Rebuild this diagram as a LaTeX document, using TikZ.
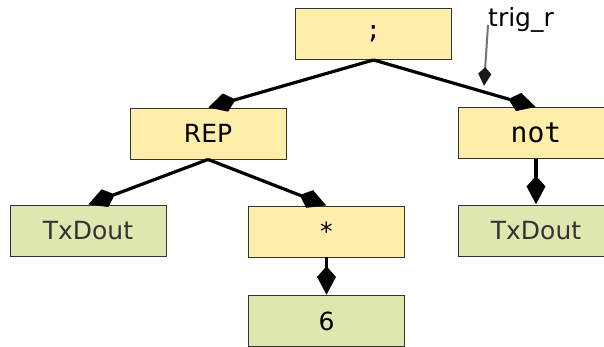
\documentclass[tikz,border=0pt]{standalone}
\usepackage{fontspec}
\setmainfont{DejaVu Sans}
\newfontfamily\monof{DejaVu Sans Mono}
\usetikzlibrary{arrows.meta}
\definecolor{ylw}{HTML}{FFEEAA}
\definecolor{grn}{HTML}{DDE8B0}
\definecolor{brd}{HTML}{333333}
\definecolor{txc}{HTML}{3A3030}
\begin{document}
\begin{tikzpicture}[x=1pt,y=-1pt,
  box/.style={draw=brd,line width=0.9pt,minimum width=156pt,minimum height=51pt,inner sep=0pt,font=\fontsize{25}{28}\selectfont},
  op/.style={box,fill=ylw},
  leaf/.style={box,fill=grn,text=txc},
  edge/.style={line width=3.2pt,-{Stealth[length=18pt,width=17pt,inset=-11pt]}},
  ann/.style={draw=gray!90!black,line width=2pt,-{Stealth[length=12pt,width=12pt,inset=-7pt,color=black!90]}}]
\useasboundingbox (0,0) rectangle (604,346);
\clip (0,0) rectangle (604,346);
\node[op] (semi) at (373.5,34) {\monof ;};
\node[op] (rep) at (208,133.5) {REP};
\node[op,font=\fontsize{28}{30}\selectfont] (not) at (536,133) {\monof not};
\node[leaf] (tx1) at (88,230.5) {TxDout};
\node[op] (star) at (326.5,231.5) {\monof *};
\node[leaf,text=black] (six) at (326.5,321) {6};
\node[leaf] (tx2) at (536,230.5) {TxDout};
\node[anchor=base west,inner sep=0pt,font=\fontsize{25}{28}\selectfont] (trig) at (488,26) {trig\_r};
\coordinate (ts) at (488,25);
\coordinate (te) at (484,86);
\draw[edge] (semi.south) -- (rep.north);
\draw[edge] (semi.south) -- (not.north);
\draw[edge] (rep.south) -- (tx1.north);
\draw[edge] (rep.south) -- (star.north);
\draw[edge] (star.south) -- (six.north);
\draw[edge] (not.south) -- (tx2.north);
\draw[ann] (ts) -- (te);
\end{tikzpicture}
\end{document}
